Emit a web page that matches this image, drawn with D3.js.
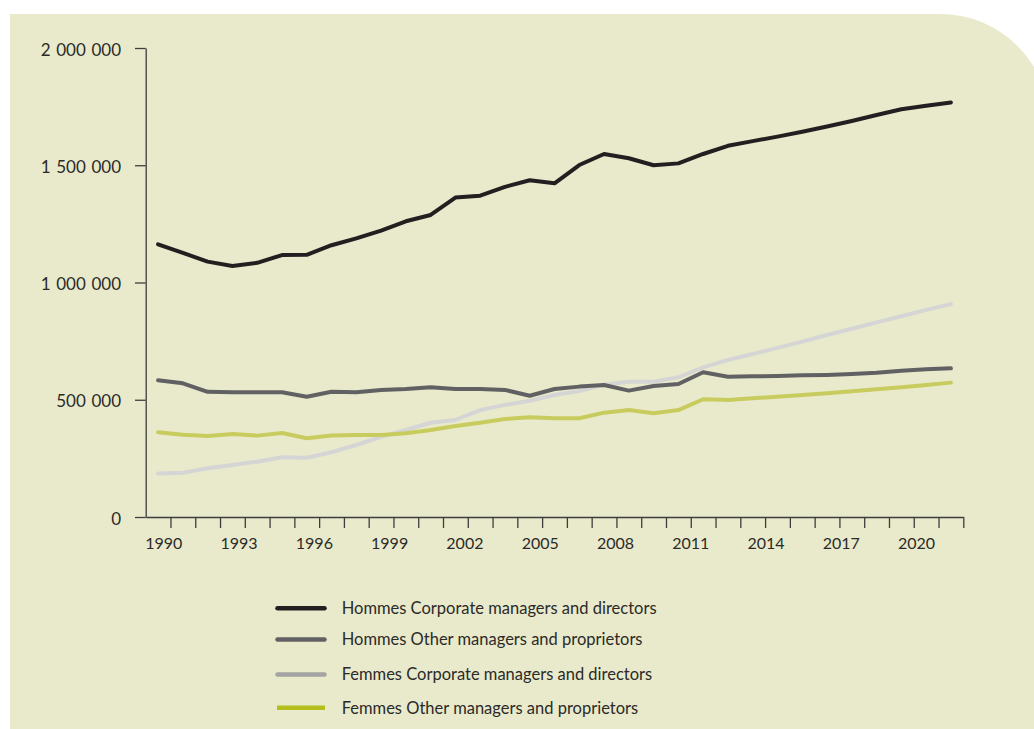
<!DOCTYPE html>
<html>
<head>
<meta charset="utf-8">
<script src="https://cdn.jsdelivr.net/npm/d3@7"></script>
<style>
  html, body { margin: 0; padding: 0; background: #ffffff; }
  svg { display: block; }
  text { font-family: Lato, "Open Sans", sans-serif; fill: #2b2a29; }
</style>
</head>
<body>
<svg id="chart" width="1034" height="729"></svg>
<script>
// Employment by year, 1990–2022
const years = d3.range(1990, 2023);

const hommesCorporate = [
  1163000, 1126000, 1089000, 1070000, 1084000, 1117000, 1118000, 1159000, 1188000, 1221000,
  1261000, 1288000, 1362000, 1370000, 1408000, 1436000, 1423000, 1501000, 1548000, 1530000,
  1500000, 1508000, 1548000, 1583000, 1603000, 1622000, 1643000, 1665000, 1689000, 1714000,
  1739000, 1754000, 1768000
];
const hommesOther = [
  583000, 570000, 534000, 532000, 532000, 532000, 513000, 534000, 532000, 542000,
  546000, 553000, 546000, 546000, 542000, 517000, 546000, 556000, 563000, 539000,
  559000, 567000, 617000, 598000, 600000, 601000, 604000, 606000, 610000, 615000,
  624000, 630000, 634000
];
const femmesCorporate = [
  186000, 189000, 208000, 222000, 236000, 255000, 253000, 276000, 307000, 342000,
  371000, 402000, 414000, 456000, 478000, 496000, 520000, 537000, 564000, 577000,
  577000, 596000, 638000, 670000, 695000, 721000, 748000, 776000, 803000, 830000,
  856000, 883000, 908000
];
const femmesOther = [
  361000, 351000, 345000, 354000, 347000, 358000, 336000, 348000, 350000, 350000,
  357000, 371000, 388000, 402000, 418000, 425000, 421000, 421000, 445000, 456000,
  442000, 456000, 502000, 499000, 506000, 513000, 520000, 528000, 536000, 545000,
  553000, 563000, 573000
];

const seriesNames = [
  "Hommes Corporate managers and directors",
  "Hommes Other managers and proprietors",
  "Femmes Corporate managers and directors",
  "Femmes Other managers and proprietors"
];

const yTickValues = [0, 500000, 1000000, 1500000, 2000000];
const yTickLabels = ["0", "500\u2004000", "1\u2004000\u2004000", "1\u2004500\u2004000", "2\u2004000\u2004000"];
const xLabelYears = [1990, 1993, 1996, 1999, 2002, 2005, 2008, 2011, 2014, 2017, 2020];

// Styling
const lineColors   = ["#231f20", "#616163", "#d5d5d5", "#c8cc5f"];
const legendColors = ["#231f20", "#616163", "#a3a3a3", "#b4be1d"];

const svg = d3.select("#chart");

// Background panel with a rounded top-right corner
svg.append("path")
  .attr("d", "M10,14 H940 A110,110 0 0 1 1050,124 V760 H10 Z")
  .attr("fill", "#e9eacb");

const plot = { left: 145.7, right: 963.3, top: 48, bottom: 517 };

// Each year occupies one slot; ticks sit on slot edges, points at slot centres
const x = d3.scaleLinear().domain([1990, 2023]).range([plot.left, plot.right]);
const xLabel = d3.scaleLinear().domain([1990, 2020]).range([163.8, 916.6]);
const y = d3.scaleLinear().domain([0, 2000000]).range([plot.bottom, plot.top]);

const axisColor = "#3d3d3d";

// Y axis
const yAxis = svg.append("g")
  .attr("transform", `translate(${plot.left},0)`)
  .call(d3.axisLeft(y)
    .tickValues(yTickValues)
    .tickFormat((d, i) => yTickLabels[i])
    .tickSize(10.7)
    .tickSizeOuter(0)
    .tickPadding(14));
yAxis.select(".domain").attr("stroke", axisColor).attr("stroke-width", 1.3);
yAxis.selectAll(".tick line").attr("stroke", axisColor).attr("stroke-width", 1.3);
yAxis.selectAll(".tick text")
  .attr("font-size", 17)
  .attr("font-family", null)
  .attr("fill", "#2b2a29")
  .attr("dy", "0.42em");

// X axis: slot-edge ticks
const xAxis = svg.append("g")
  .attr("transform", `translate(0,${plot.bottom})`)
  .call(d3.axisBottom(x)
    .tickValues(d3.range(1991, 2024))
    .tickFormat("")
    .tickSize(11)
    .tickSizeOuter(0));
xAxis.select(".domain").attr("stroke", axisColor).attr("stroke-width", 1.3);
xAxis.selectAll(".tick line").attr("stroke", axisColor).attr("stroke-width", 1.3);

// Year labels
svg.append("g")
  .selectAll("text")
  .data(xLabelYears)
  .join("text")
  .attr("x", d => xLabel(d))
  .attr("y", 549)
  .attr("text-anchor", "middle")
  .attr("font-size", 16)
  .text(d => d);

// Lines
const allSeries = [hommesCorporate, hommesOther, femmesCorporate, femmesOther];
const line = d3.line()
  .x((d, i) => x(years[i] + 0.5))
  .y(d => y(d));

// Draw lighter series first so the dark ones sit on top
const drawOrder = [2, 3, 1, 0];
svg.append("g")
  .selectAll("path")
  .data(drawOrder)
  .join("path")
  .attr("d", k => line(allSeries[k]))
  .attr("fill", "none")
  .attr("stroke", k => lineColors[k])
  .attr("stroke-width", 4)
  .attr("stroke-linejoin", "round")
  .attr("stroke-linecap", "round");

// Legend
const legendRows = [608.3, 639.5, 674.5, 707.8];
const legend = svg.append("g");
legend.selectAll("line")
  .data(seriesNames)
  .join("line")
  .attr("x1", (d, i) => i === 3 ? 277 : 277.5)
  .attr("x2", (d, i) => i === 3 ? 325 : 324.5)
  .attr("y1", (d, i) => legendRows[i])
  .attr("y2", (d, i) => legendRows[i])
  .attr("stroke", (d, i) => legendColors[i])
  .attr("stroke-width", 4.5)
  .attr("stroke-linecap", (d, i) => i === 3 ? "butt" : "round");
legend.selectAll("text")
  .data(seriesNames)
  .join("text")
  .attr("x", 341.7)
  .attr("y", (d, i) => legendRows[i])
  .attr("dy", "0.36em")
  .attr("font-size", 16.5)
  .text(d => d);
</script>
</body>
</html>
